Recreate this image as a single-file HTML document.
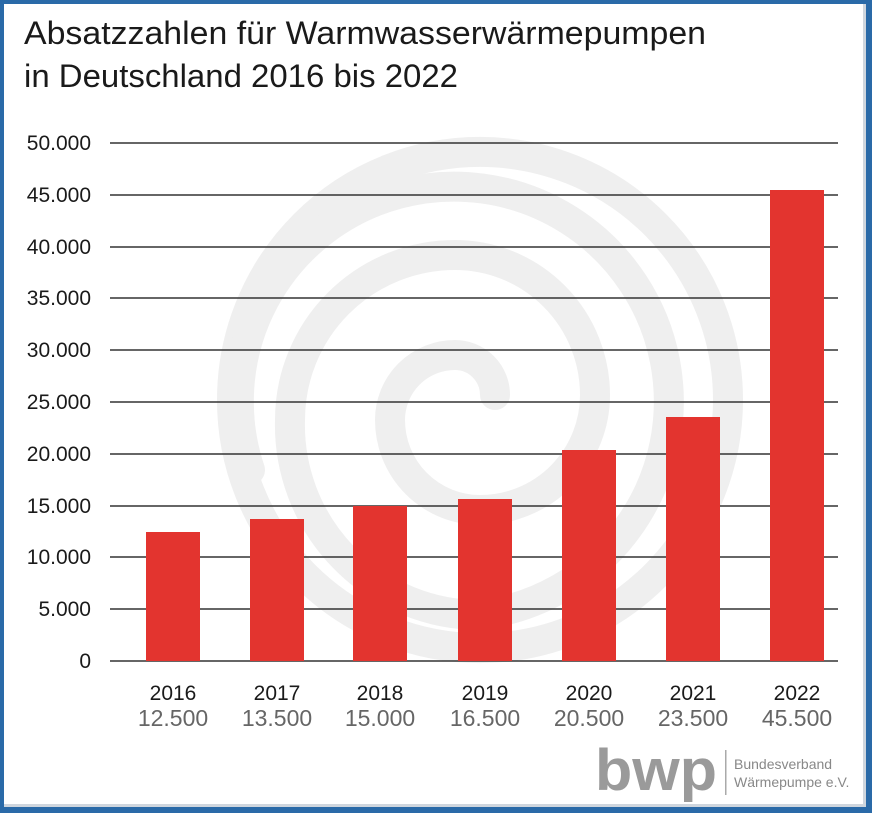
<!DOCTYPE html>
<html><head><meta charset="utf-8"><style>
html,body{margin:0;padding:0;background:#fff}
svg{display:block}
</style></head><body>
<svg width="872" height="813" viewBox="0 0 872 813" xmlns="http://www.w3.org/2000/svg" font-family="Liberation Sans, DejaVu Sans, sans-serif">
<rect x="0" y="0" width="872" height="813" fill="#2a6aa8"/>
<rect x="4" y="4" width="862" height="803" fill="#cfd6de"/>
<rect x="4" y="4" width="859" height="800" fill="#fff"/>
<g fill="none" stroke="#efefef" stroke-width="30" stroke-linecap="round">
<path d="M480 400 m-248 0 a248 248 0 1 1 496 0 a248 248 0 1 1 -496 0"/>
<path d="M250 470 A215 215 0 1 1 480 615 A190 190 0 0 1 290 420 A165 165 0 0 1 455 255 A140 140 0 0 1 595 395 A115 115 0 0 1 480 510 A90 90 0 0 1 390 420 A65 65 0 0 1 455 355 A40 40 0 0 1 495 395"/>
</g>
<text x="24" y="44" font-size="32" fill="#1a1a1a" textLength="682" lengthAdjust="spacingAndGlyphs">Absatzzahlen für Warmwasserwärmepumpen</text>
<text x="24" y="87" font-size="32" fill="#1a1a1a" textLength="434" lengthAdjust="spacingAndGlyphs">in Deutschland 2016 bis 2022</text>
<g stroke="#333" stroke-width="1.5">
<line x1="110" x2="838" y1="143" y2="143"/><line x1="110" x2="838" y1="195" y2="195"/>
<line x1="110" x2="838" y1="247" y2="247"/><line x1="110" x2="838" y1="298" y2="298"/>
<line x1="110" x2="838" y1="350" y2="350"/><line x1="110" x2="838" y1="402" y2="402"/>
<line x1="110" x2="838" y1="454" y2="454"/><line x1="110" x2="838" y1="506" y2="506"/>
<line x1="110" x2="838" y1="557" y2="557"/><line x1="110" x2="838" y1="609" y2="609"/>
<line x1="110" x2="838" y1="661" y2="661"/>
</g>
<g font-size="21" fill="#1a1a1a" text-anchor="end">
<text x="91" y="150">50.000</text><text x="91" y="202">45.000</text>
<text x="91" y="254">40.000</text><text x="91" y="305">35.000</text>
<text x="91" y="357">30.000</text><text x="91" y="409">25.000</text>
<text x="91" y="461">20.000</text><text x="91" y="513">15.000</text>
<text x="91" y="564">10.000</text><text x="91" y="616">5.000</text>
<text x="91" y="668">0</text>
</g>
<g fill="#e3342f">
<rect x="146" y="532" width="54" height="129"/>
<rect x="250" y="519" width="54" height="142"/>
<rect x="353" y="506" width="54" height="155"/>
<rect x="458" y="499" width="54" height="162"/>
<rect x="562" y="450" width="54" height="211"/>
<rect x="666" y="417" width="54" height="244"/>
<rect x="770" y="190" width="54" height="471"/>
</g>
<g font-size="21" fill="#1a1a1a" text-anchor="middle">
<text x="173" y="700">2016</text><text x="277" y="700">2017</text>
<text x="380" y="700">2018</text><text x="485" y="700">2019</text>
<text x="589" y="700">2020</text><text x="693" y="700">2021</text>
<text x="797" y="700">2022</text>
</g>
<g font-size="23" fill="#666" text-anchor="middle">
<text x="173" y="726">12.500</text><text x="277" y="726">13.500</text>
<text x="380" y="726">15.000</text><text x="485" y="726">16.500</text>
<text x="589" y="726">20.500</text><text x="693" y="726">23.500</text>
<text x="797" y="726">45.500</text>
</g>
<g>
<text x="595" y="790" font-size="58" font-weight="bold" fill="#9a9a9a" textLength="122" lengthAdjust="spacingAndGlyphs">bwp</text>
<rect x="725" y="750" width="1.5" height="45" fill="#aaa"/>
<text x="734" y="769" font-size="14" fill="#888">Bundesverband</text>
<text x="734" y="787" font-size="14" fill="#888">Wärmepumpe e.V.</text>
</g>
</svg>
</body></html>
